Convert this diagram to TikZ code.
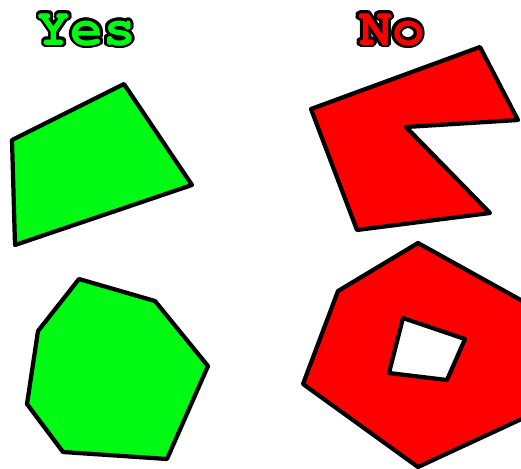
\documentclass[tikz,border=0pt]{standalone}
\usepackage{fontspec}
\usepackage{contour}
\contourlength{1.6pt}
\definecolor{yesgreen}{RGB}{0,250,20}
\definecolor{nored}{RGB}{255,0,0}
\begin{document}
\begin{tikzpicture}[x=0.02cm,y=-0.02cm,
poly/.style={draw=black,line width=2.4pt,line join=round},
yespoly/.style={poly,fill=yesgreen},
nopoly/.style={poly,fill=nored,even odd rule},
heading/.style={anchor=base,inner sep=0pt,font=\fontencoding{T1}\fontfamily{pcr}\fontseries{b}\fontsize{31}{31}\selectfont}
]
\useasboundingbox (0,0) rectangle (521,468);
\clip (0,0) rectangle (521,468);
\node[heading] (yes) at (87,45) {\contour{black}{\textcolor{yesgreen}{Yes}}};
\node[heading] (no) at (392,45) {\contour{black}{\textcolor{nored}{No}}};
\draw[yespoly] (12,140) -- (124,84) -- (192,185) -- (15,245) -- cycle;
\draw[yespoly] (79,279) -- (155,301) -- (208,366) -- (167,459) -- (63,452) -- (27,404) -- (38,331) -- cycle;
\draw[nopoly] (311,109) -- (480,47) -- (518,120) -- (406,127) -- (490,213) -- (357,230) -- cycle;
\draw[nopoly] (418,243) -- (528,304) -- (528,416) -- (418,467) -- (303,384) -- (338,291) -- cycle
  (403,318) -- (465,339) -- (447,380) -- (389,373) -- cycle;
\end{tikzpicture}
\end{document}
